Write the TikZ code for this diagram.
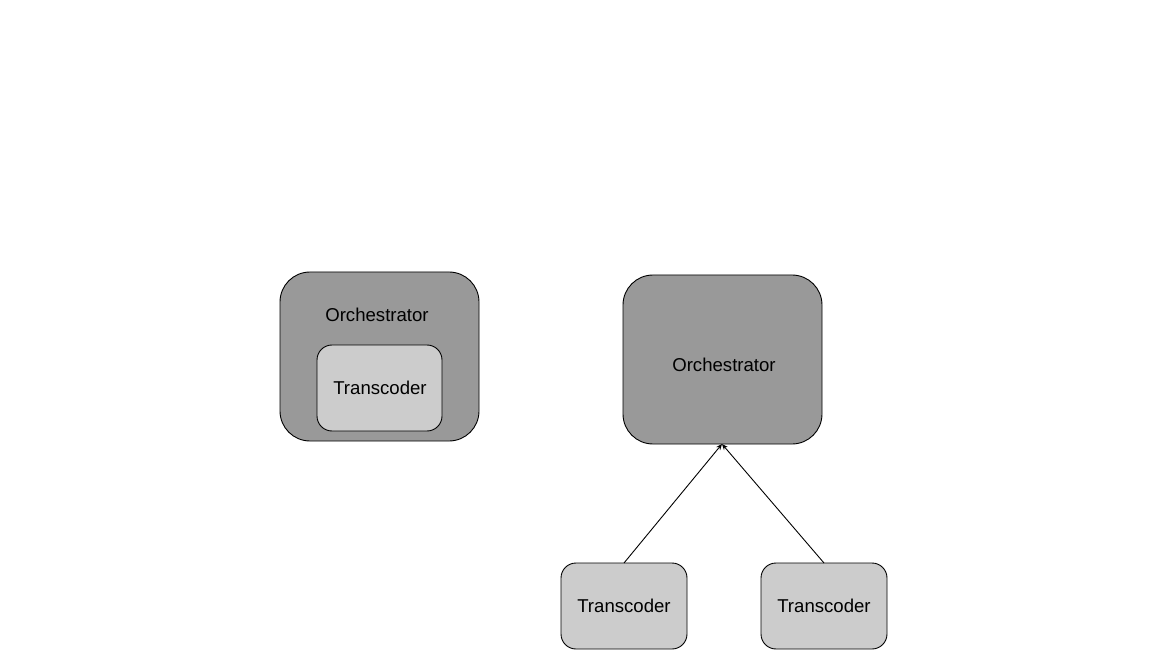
\documentclass[tikz,border=0pt]{standalone}
\usepackage{fontspec}
\setmainfont{Liberation Sans}
\usetikzlibrary{arrows.meta}
\definecolor{darkbox}{HTML}{999999}
\definecolor{lightbox}{HTML}{CCCCCC}
\begin{document}
\begin{tikzpicture}[x=1pt,y=-1pt,
  orch/.style={draw=black,fill=darkbox,line width=0.9pt,rounded corners=30pt},
  trans/.style={draw=black,fill=lightbox,line width=0.9pt,rounded corners=15pt},
  lbl/.style={font=\fontsize{18.6}{22}\selectfont,inner sep=0pt},
  conn/.style={draw=black,line width=0.9pt,-{Stealth[length=6pt,width=5pt]}}]
\useasboundingbox (0,0) rectangle (1154,668);
% left group
\draw[orch] (280,272) rectangle (479,441);
\node[lbl] (orchA) at (377,315) {Orchestrator};
\draw[trans] (317,345) rectangle (442,431);
\node[lbl] (transA) at (380,388) {Transcoder};
% right group
\draw[orch] (623,275) rectangle (822,444);
\node[lbl] (orchB) at (724,365) {Orchestrator};
\coordinate (orchBbot) at (722,444);
\draw[trans] (561,563) rectangle (687,649);
\node[lbl] (transB) at (624,606) {Transcoder};
\coordinate (transBtop) at (624,563);
\draw[trans] (761,563) rectangle (887,649);
\node[lbl] (transC) at (824,606) {Transcoder};
\coordinate (transCtop) at (824,563);
\draw[conn] (transBtop) -- (orchBbot);
\draw[conn] (transCtop) -- (orchBbot);
\end{tikzpicture}
\end{document}
